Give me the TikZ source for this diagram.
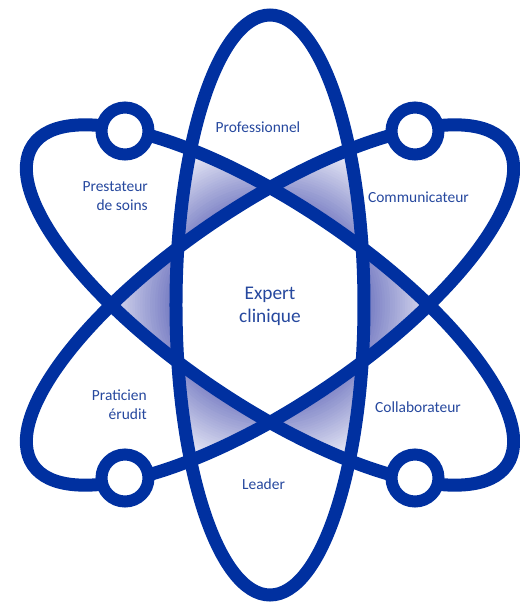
\documentclass[tikz,border=0pt]{standalone}
\usepackage{fontspec}
\setmainfont{Carlito}
\usepackage{tikz}
\usetikzlibrary{positioning}

\definecolor{orbitblue}{RGB}{0,48,160}
\definecolor{labelblue}{RGB}{38,72,158}
\definecolor{glowdark}{RGB}{116,122,194}
\definecolor{glowlight}{RGB}{238,239,249}

\tikzset{
  orbit/.style={draw=orbitblue, line width=0.26cm},
  ring/.style={circle, draw=orbitblue, fill=white, line width=0.24cm,
    minimum size=0.94cm, inner sep=0pt},
  role/.style={text=labelblue, font=\fontsize{8.8}{10.8}\selectfont},
  core/.style={text=labelblue, font=\fontsize{11}{13}\selectfont, align=center}
}

% radial glow, dark near the centre, pale towards the rings
\newcommand{\glowfill}{%
  \foreach \k in {0,...,30}{
    \pgfmathsetmacro\glowrad{3.45-\k*0.05}
    \pgfmathtruncatemacro\glowpct{\k*100/30}
    \fill[glowdark!\glowpct!glowlight] (0,0) circle (\glowrad);
  }%
}

\begin{document}
\begin{tikzpicture}

\useasboundingbox (-5.4,-5.98) rectangle (5.0,6.1);

%------------------------------------------------------------
% Shaded triangles (inside exactly two orbits)
%------------------------------------------------------------

% vertical and rising orbit, outside falling orbit
\begin{scope}[even odd rule]
\clip (0,0) ellipse (1.88 and 5.8);
\clip[rotate=56] (0,0) ellipse (2 and 5.72);
\clip[rotate=-56]
(-9,-9) rectangle (9,9) (0,0) ellipse (2 and 5.72);
\glowfill
\end{scope}

% vertical and falling orbit, outside rising orbit
\begin{scope}[even odd rule]
\clip (0,0) ellipse (1.88 and 5.8);
\clip[rotate=-56] (0,0) ellipse (2 and 5.72);
\clip[rotate=56]
(-9,-9) rectangle (9,9) (0,0) ellipse (2 and 5.72);
\glowfill
\end{scope}

% both tilted orbits, outside vertical orbit
\begin{scope}[even odd rule]
\clip[rotate=56] (0,0) ellipse (2 and 5.72);
\clip[rotate=-56] (0,0) ellipse (2 and 5.72);
\clip
(-9,-9) rectangle (9,9) (0,0) ellipse (1.88 and 5.8);
\glowfill
\end{scope}

%------------------------------------------------------------
% Orbits
%------------------------------------------------------------

\draw[orbit] (0,0) ellipse (1.88 and 5.8);
\draw[orbit,rotate=56] (0,0) ellipse (2 and 5.72);
\draw[orbit,rotate=-56] (0,0) ellipse (2 and 5.72);

%------------------------------------------------------------
% Electrons
%------------------------------------------------------------

\node[ring] (ringNW) at (-2.9,3.48) {};
\node[ring] (ringNE) at (2.9,3.48) {};
\node[ring] (ringSW) at (-2.9,-3.46) {};
\node[ring] (ringSE) at (2.9,-3.46) {};

%------------------------------------------------------------
% Roles
%------------------------------------------------------------

\node[core] (expert) at (0,-0.03) {Expert\\clinique};

\node[role] (professionnel) at (-0.24,3.56) {Professionnel};

\node[
    role,
    anchor=east,
    align=right
]
(prestateur) at (-2.32,2.17) {Prestateur\\de soins};

\node[role] (communicateur) at (2.97,2.16) {Communicateur};

\node[
    role,
    anchor=east,
    align=right
]
(praticien) at (-2.34,-1.99) {Praticien\\érudit};

\node[role] (collaborateur) at (2.96,-2.04) {Collaborateur};

\node[role] (leader) at (-0.13,-3.58) {Leader};

\end{tikzpicture}
\end{document}
